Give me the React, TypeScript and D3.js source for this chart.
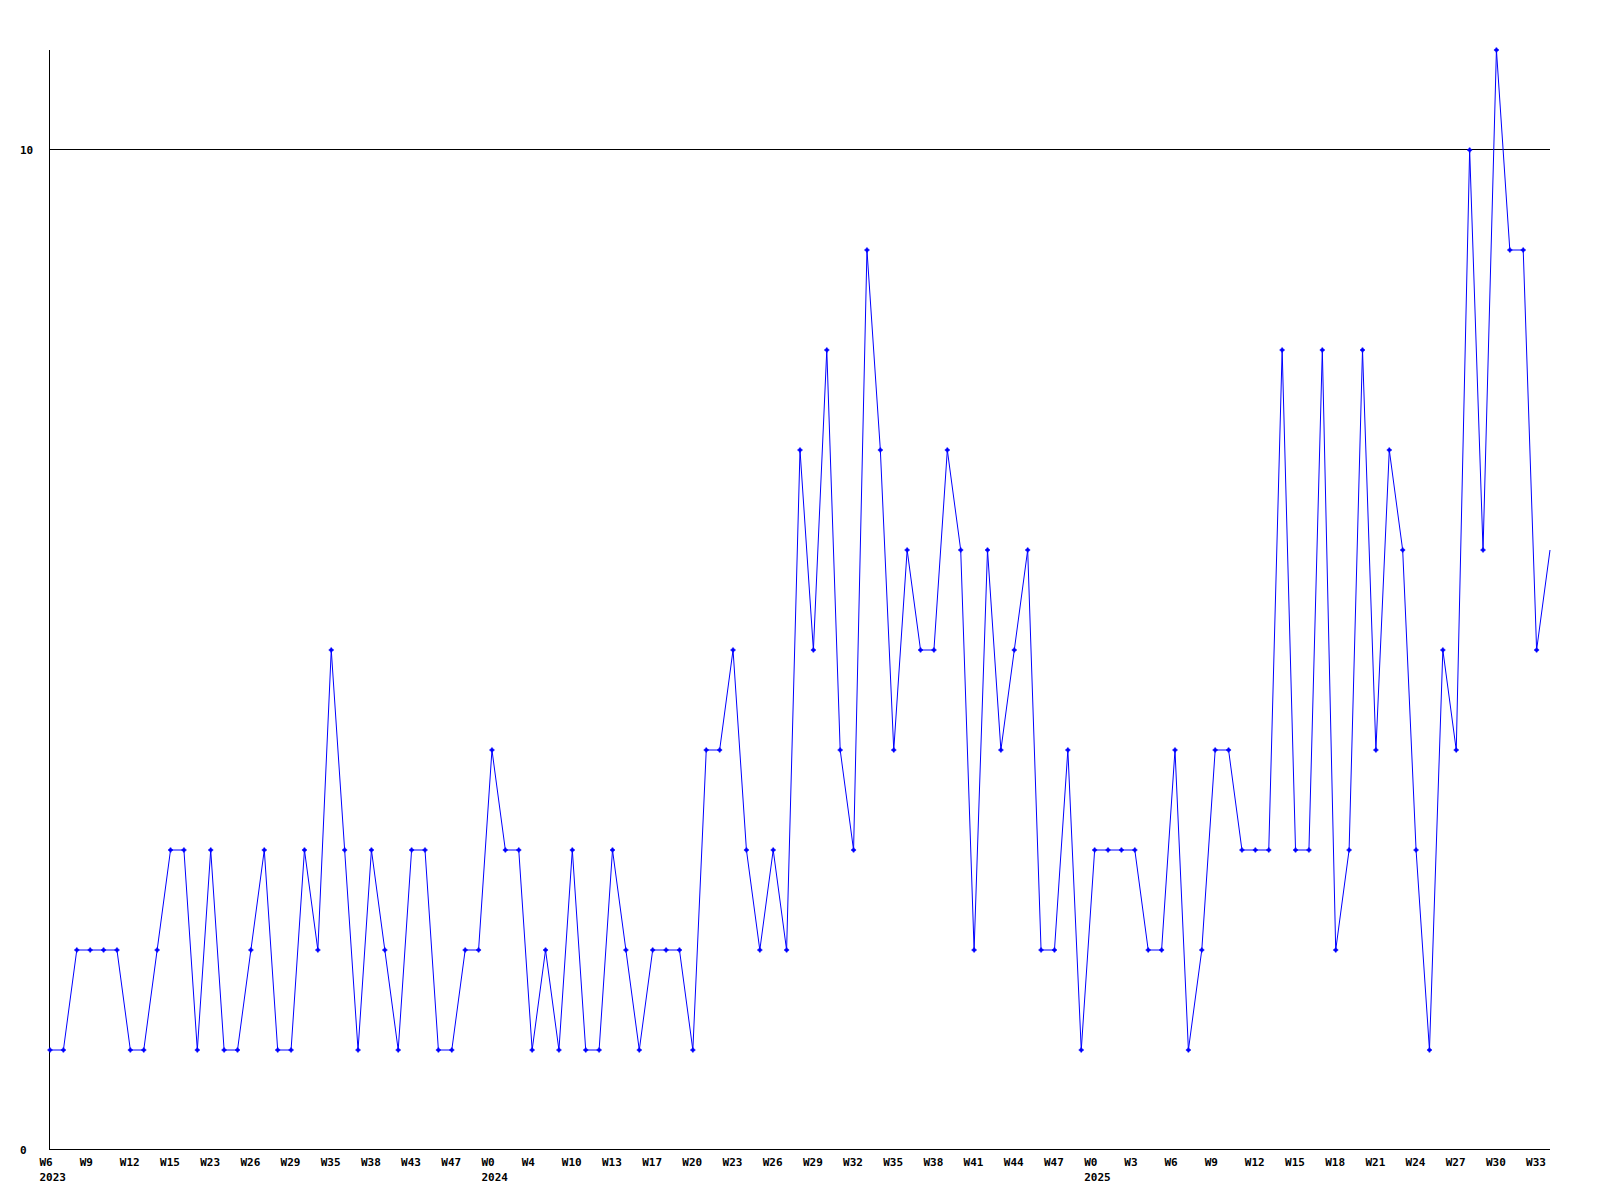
import React from "react";
import * as d3 from "d3";

const values: number[] = [
  1, 1, 2, 2, 2, 2, 1, 1, 2, 3,
  3, 1, 3, 1, 1, 2, 3, 1, 1, 3,
  2, 5, 3, 1, 3, 2, 1, 3, 3, 1,
  1, 2, 2, 4, 3, 3, 1, 2, 1, 3,
  1, 1, 3, 2, 1, 2, 2, 2, 1, 4,
  4, 5, 3, 2, 3, 2, 7, 5, 8, 4,
  3, 9, 7, 4, 6, 5, 5, 7, 6, 2,
  6, 4, 5, 6, 2, 2, 4, 1, 3, 3,
  3, 3, 2, 2, 4, 1, 2, 4, 4, 3,
  3, 3, 8, 3, 3, 8, 2, 3, 8, 4,
  7, 6, 3, 1, 5, 4, 10, 6, 11, 9,
  9, 5, 6,
];

const weekLabels: string[] = [
  "W6", "W9", "W12", "W15", "W23", "W26", "W29", "W35", "W38", "W43", "W47",
  "W0", "W4", "W10", "W13", "W17", "W20", "W23", "W26", "W29", "W32", "W35", "W38", "W41", "W44", "W47",
  "W0", "W3", "W6", "W9", "W12", "W15", "W18", "W21", "W24", "W27", "W30", "W33",
];
const labelEvery = 3;

const yearLabels: string[] = ["2023", "2024", "2025"];
const yearLabelAt: number[] = [0, 11, 26];

const yTicks: number[] = [0, 10];
const yMax = 11;

const W = 1600;
const H = 1200;
const left = 50;
const right = 1550;
const top = 50;
const bottom = 1150;
const font = "'DejaVu Sans Mono', monospace";

export default function App() {
  const idx = d3.range(values.length);
  const x = d3.scalePoint<number>().domain(idx).range([left, right]);
  const y = d3.scaleLinear().domain([0, yMax]).range([bottom, top]);

  const line = d3
    .line<number>()
    .x((_, i) => x(i) as number)
    .y((d) => y(d));

  const crisp = (v: number) => Math.round(v) + 0.5;

  return (
    <svg
      width={W}
      height={H}
      style={{ position: "absolute", left: 0, top: 0, background: "#fff" }}
    >
      <rect x={0} y={0} width={W} height={H} fill="#fff" />
      {yTicks
        .filter((t) => t !== 0)
        .map((t) => (
          <line
            key={"g" + t}
            x1={left}
            x2={right}
            y1={crisp(y(t)) - 1}
            y2={crisp(y(t)) - 1}
            stroke="#000"
            strokeWidth={1}
          />
        ))}
      <line x1={crisp(left) - 1} x2={crisp(left) - 1} y1={top} y2={bottom} stroke="#000" strokeWidth={1} />
      <line x1={left} x2={right} y1={crisp(bottom) - 1} y2={crisp(bottom) - 1} stroke="#000" strokeWidth={1} />

      {yTicks.map((t) => (
        <text
          key={"y" + t}
          x={20}
          y={y(t) + 4}
          fontFamily={font}
          fontWeight="bold"
          fontSize={11}
          fill="#000"
        >
          {t}
        </text>
      ))}

      {weekLabels.map((lab, k) => (
        <text
          key={"w" + k}
          x={(x(k * labelEvery) as number) - 10.5}
          y={1166}
          fontFamily={font}
          fontWeight="bold"
          fontSize={11}
          fill="#000"
        >
          {lab}
        </text>
      ))}
      {yearLabels.map((yr, k) => (
        <text
          key={"yr" + k}
          x={(x(yearLabelAt[k] * labelEvery) as number) - 10.5}
          y={1181}
          fontFamily={font}
          fontWeight="bold"
          fontSize={11}
          fill="#000"
        >
          {yr}
        </text>
      ))}

      <path d={line(values) || ""} fill="none" stroke="#0000ff" strokeWidth={1} />
      {values.slice(0, values.length - 1).map((v, i) => {
        const cx = x(i) as number;
        const cy = y(v);
        return (
          <g key={"m" + i} transform={`translate(${cx},${cy})`}>
            <path d="M-2.5,0H2.5M0,-2.5V2.5" stroke="#0000ff" strokeWidth={1.5} fill="none" />
            <rect x={-1.5} y={-1.5} width={3} height={3} fill="#0000ff" />
          </g>
        );
      })}
    </svg>
  );
}
